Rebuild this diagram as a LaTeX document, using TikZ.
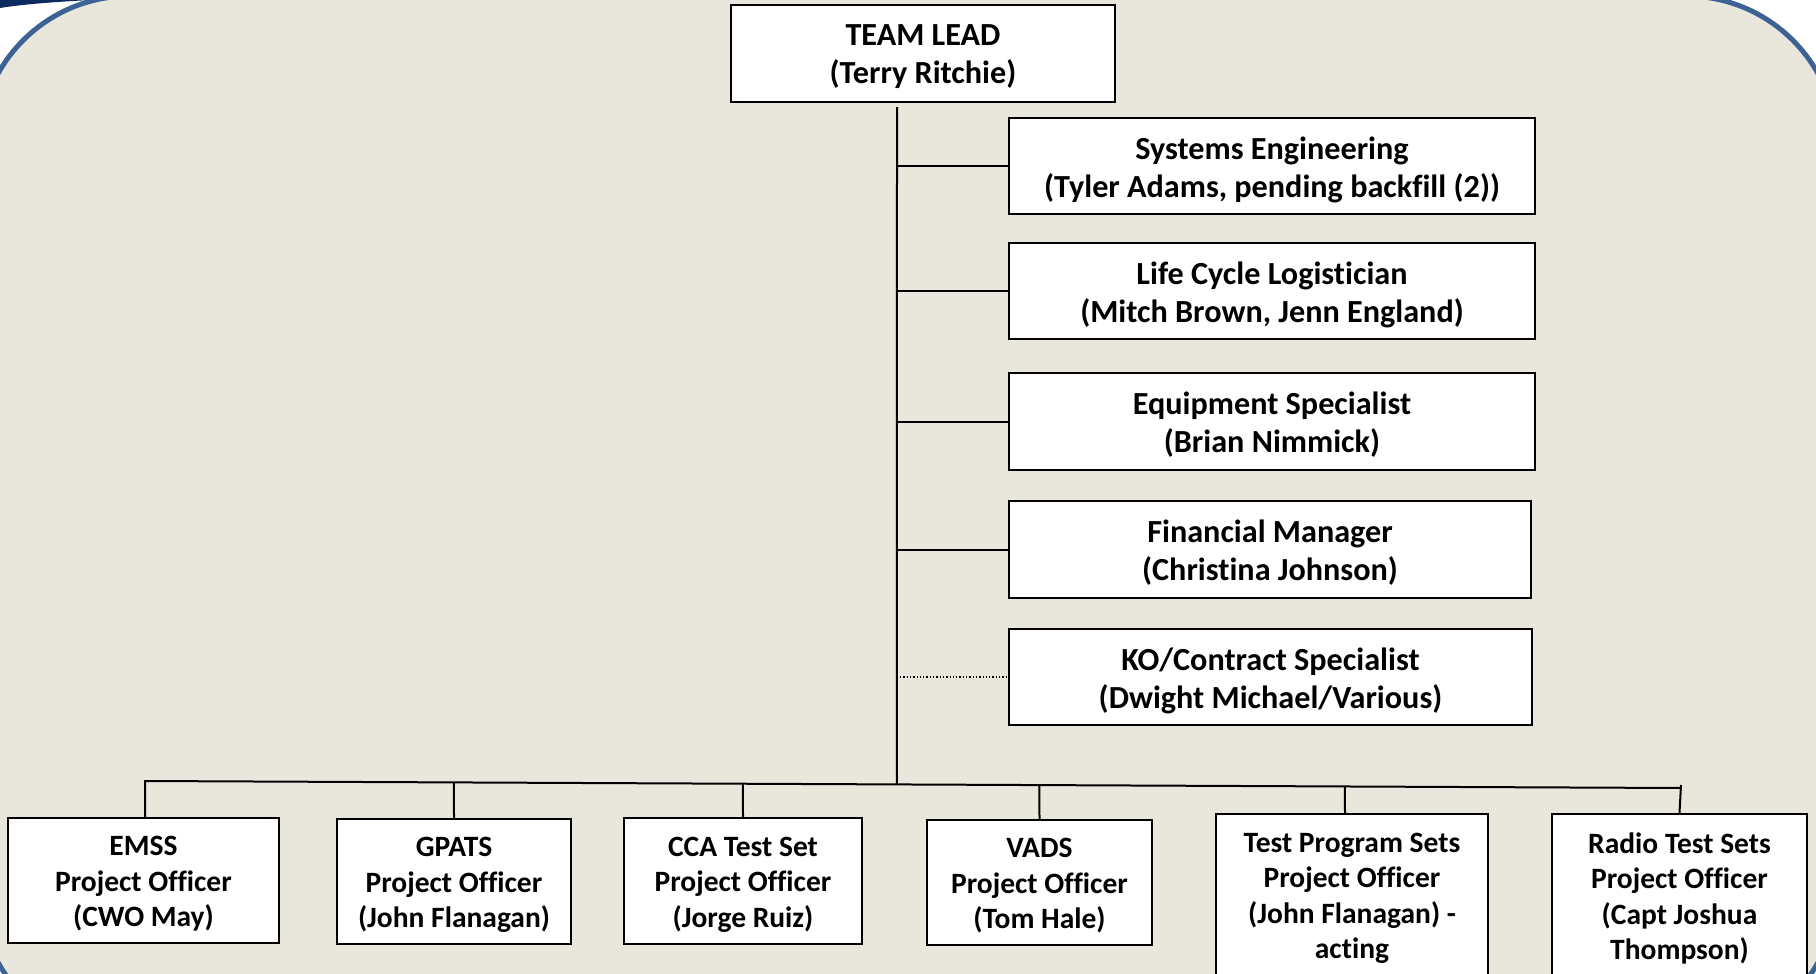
\documentclass[tikz,border=0pt]{standalone}
\usepackage{fontspec}
\setmainfont{Carlito}[Ligatures={NoCommon}]
\usetikzlibrary{calc}
\definecolor{beige}{HTML}{E9E7DC}
\definecolor{frameblue}{HTML}{3B6396}
\definecolor{navy}{HTML}{0D2B5E}
\begin{document}
\begin{tikzpicture}[x=1pt,y=-1pt,
  box/.style={draw=black, line width=2pt, fill=white, inner sep=0pt},
  txt/.style={align=center, inner sep=0pt, font=\bfseries\fontsize{32.2}{38}\selectfont},
  lowtxt/.style={txt, font=\bfseries\fontsize{29.5}{35.5}\selectfont},
  link/.style={draw=black, line width=2pt},
  dotlink/.style={draw=black, line width=1.3pt, dotted}]
\useasboundingbox (0,0) rectangle (1816,974);
\clip (0,0) rectangle (1816,974);
\fill[white] (0,0) rectangle (1816,974);
\fill[navy] (0,0) -- (90,0) .. controls (55,2) and (25,4) .. (0,8) -- cycle;
\draw[frameblue, line width=5pt, fill=beige, rounded corners=151pt] (-21,-4) rectangle (1837,1040);

% top box
\node[box, minimum width=384pt, minimum height=97pt] (tl) at (923,53.5) {};
\node[txt] (tl-t) at ($(tl)+(0,3.5)$) {TEAM LEAD\\(Terry Ritchie)};

% staff boxes
\node[box, minimum width=526pt, minimum height=96pt] (se) at (1272,166) {};
\node[txt] (se-t) at ($(se)+(0,3.5)$) {Systems Engineering\\(Tyler Adams, pending backfill (2))};
\node[box, minimum width=526pt, minimum height=96pt] (lcl) at (1272,291) {};
\node[txt] (lcl-t) at ($(lcl)+(0,3.5)$) {Life Cycle Logistician\\(Mitch Brown, Jenn England)};
\node[box, minimum width=526pt, minimum height=97pt] (es) at (1272,421.5) {};
\node[txt] (es-t) at ($(es)+(0,3.5)$) {Equipment Specialist\\(Brian Nimmick)};
\node[box, minimum width=522pt, minimum height=97pt] (fm) at (1270,549.5) {};
\node[txt] (fm-t) at ($(fm)+(0,3.5)$) {Financial Manager\\(Christina Johnson)};
\node[box, minimum width=523pt, minimum height=96pt] (ko) at (1270.5,677) {};
\node[txt] (ko-t) at ($(ko)+(0,3.5)$) {KO/Contract Specialist\\(Dwight Michael/Various)};

% project officer boxes
\node[box, minimum width=271pt, minimum height=125pt] (emss) at (143.5,880.5) {};
\node[lowtxt] (emss-t) at ($(emss)+(0,3.5)$) {EMSS\\Project Officer\\(CWO May)};
\node[box, minimum width=234pt, minimum height=125pt] (gpats) at (454,881.5) {};
\node[lowtxt] (gpats-t) at ($(gpats)+(0,3.5)$) {GPATS\\Project Officer\\(John Flanagan)};
\node[box, minimum width=238pt, minimum height=126pt] (cca) at (743,881) {};
\node[lowtxt] (cca-t) at ($(cca)+(0,3.5)$) {CCA Test Set\\Project Officer\\(Jorge Ruiz)};
\node[box, minimum width=225pt, minimum height=125pt] (vads) at (1039.5,882.5) {};
\node[lowtxt] (vads-t) at ($(vads)+(0,3.5)$) {VADS\\Project Officer\\(Tom Hale)};
\node[box, minimum width=272pt, minimum height=162pt] (tps) at (1352,895) {};
\node[lowtxt] (tps-t) at ($(tps)+(0,3.5)$) {Test Program Sets\\Project Officer\\(John Flanagan) -\\acting};
\node[box, minimum width=255pt, minimum height=162pt] (rts) at (1679.5,895) {};
\node[lowtxt] (rts-t) at ($(rts)+(0,3.5)$) {Radio Test Sets\\Project Officer\\(Capt Joshua\\Thompson)};

% trunk and bus
\coordinate (trunkTop) at (897,107);
\coordinate (barL) at (145,781);
\coordinate (barR) at (1681,788);
\draw[link] (trunkTop) -- (intersection of trunkTop--{$(trunkTop)+(0,100)$} and barL--barR);
\draw[link] (emss.north -| barL) -- (barL) -- (barR);

% staff branches
\draw[link] (trunkTop |- se.west) -- (se.west);
\draw[link] (trunkTop |- lcl.west) -- (lcl.west);
\draw[link] (trunkTop |- es.west) -- (es.west);
\draw[link] (trunkTop |- fm.west) -- (fm.west);
\draw[dotlink] ($(trunkTop |- ko.west)+(3,0)$) -- (ko.west);

% project officer drops
\coordinate (gp) at (gpats.north);
\coordinate (cc) at (cca.north);
\coordinate (va) at (vads.north);
\coordinate (tp) at ($(tps.north)+(-7,0)$);
\draw[link] (gp) -- (intersection of gp--{$(gp)+(0,-100)$} and barL--barR);
\draw[link] (cc) -- (intersection of cc--{$(cc)+(0,-100)$} and barL--barR);
\draw[link] (va) -- (intersection of va--{$(va)+(0,-100)$} and barL--barR);
\draw[link] (tp) -- (intersection of tp--{$(tp)+(0,-100)$} and barL--barR);
\draw[link] (rts.north) -- ($(barR)+(0,-3)$);
\end{tikzpicture}
\end{document}
